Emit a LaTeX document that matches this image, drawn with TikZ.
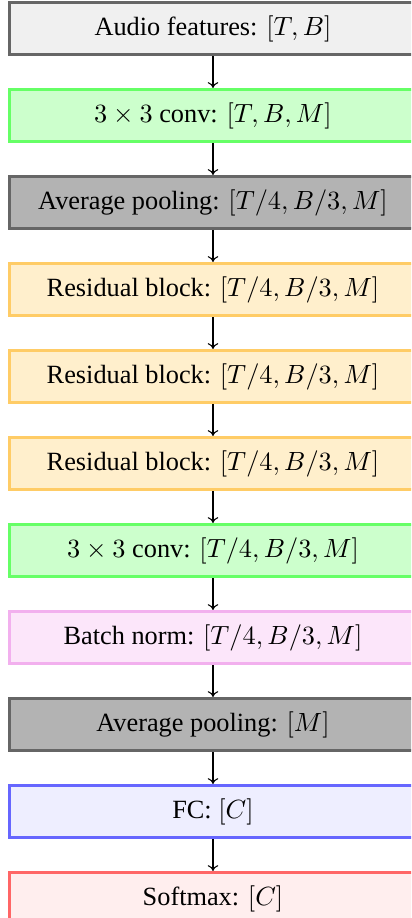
\documentclass[tikz,border=0pt]{standalone}
\usepackage{fontspec}
\setmainfont{Liberation Serif}
\usetikzlibrary{arrows.meta}

\definecolor{audioFill}{HTML}{F0F0F0}
\definecolor{audioDraw}{HTML}{666666}
\definecolor{convFill}{HTML}{CCFFCC}
\definecolor{convDraw}{HTML}{66FF66}
\definecolor{poolFill}{HTML}{B3B3B3}
\definecolor{poolDraw}{HTML}{666666}
\definecolor{resFill}{HTML}{FFEFCC}
\definecolor{resDraw}{HTML}{FFCC66}
\definecolor{bnFill}{HTML}{FCE6FA}
\definecolor{bnDraw}{HTML}{F2B0EE}
\definecolor{fcFill}{HTML}{EEEEFF}
\definecolor{fcDraw}{HTML}{6666FF}
\definecolor{smFill}{HTML}{FFEEEE}
\definecolor{smDraw}{HTML}{FF6666}

\tikzset{
  layerbox/.style={draw, rectangle, line width=1.14pt,
    minimum width=154.7pt, minimum height=19.8pt,
    inner sep=0pt, font=\fontsize{10}{12}\selectfont},
  audio/.style={layerbox, fill=audioFill, draw=audioDraw},
  conv/.style={layerbox, fill=convFill, draw=convDraw},
  pool/.style={layerbox, fill=poolFill, draw=poolDraw},
  res/.style={layerbox, fill=resFill, draw=resDraw},
  bn/.style={layerbox, fill=bnFill, draw=bnDraw},
  fc/.style={layerbox, fill=fcFill, draw=fcDraw},
  sm/.style={layerbox, fill=smFill, draw=smDraw},
  flow/.style={-{To[length=2.2pt,width=4pt]}, line width=0.4pt, black}
}

\begin{document}
\begin{tikzpicture}[x=0.38pt, y=-0.38pt]
\useasboundingbox (0,0) rectangle (411,918);
\clip (0,0) rectangle (411,918);

\node[audio] (n1)  at (213,  28.5) {Audio features: $[T, B]$};
\node[conv]  (n2)  at (213, 115.5) {$3\times 3$ conv: $[T, B, M]$};
\node[pool]  (n3)  at (213, 202.5) {Average pooling: $[T/4, B/3, M]$};
\node[res]   (n4)  at (213, 289.5) {Residual block: $[T/4, B/3, M]$};
\node[res]   (n5)  at (213, 376.5) {Residual block: $[T/4, B/3, M]$};
\node[res]   (n6)  at (213, 463.5) {Residual block: $[T/4, B/3, M]$};
\node[conv]  (n7)  at (213, 550.5) {$3\times 3$ conv: $[T/4, B/3, M]$};
\node[bn]    (n8)  at (213, 637.5) {Batch norm: $[T/4, B/3, M]$};
\node[pool]  (n9)  at (213, 724.5) {Average pooling: $[M]$};
\node[fc]    (n10) at (213, 811.5) {FC: $[C]$};
\node[sm]    (n11) at (213, 898.5) {Softmax: $[C]$};

\foreach \a/\b in {n1/n2, n2/n3, n3/n4, n4/n5, n5/n6, n6/n7, n7/n8, n8/n9, n9/n10, n10/n11}
  \draw[flow] (\a) -- (\b);
\end{tikzpicture}
\end{document}
